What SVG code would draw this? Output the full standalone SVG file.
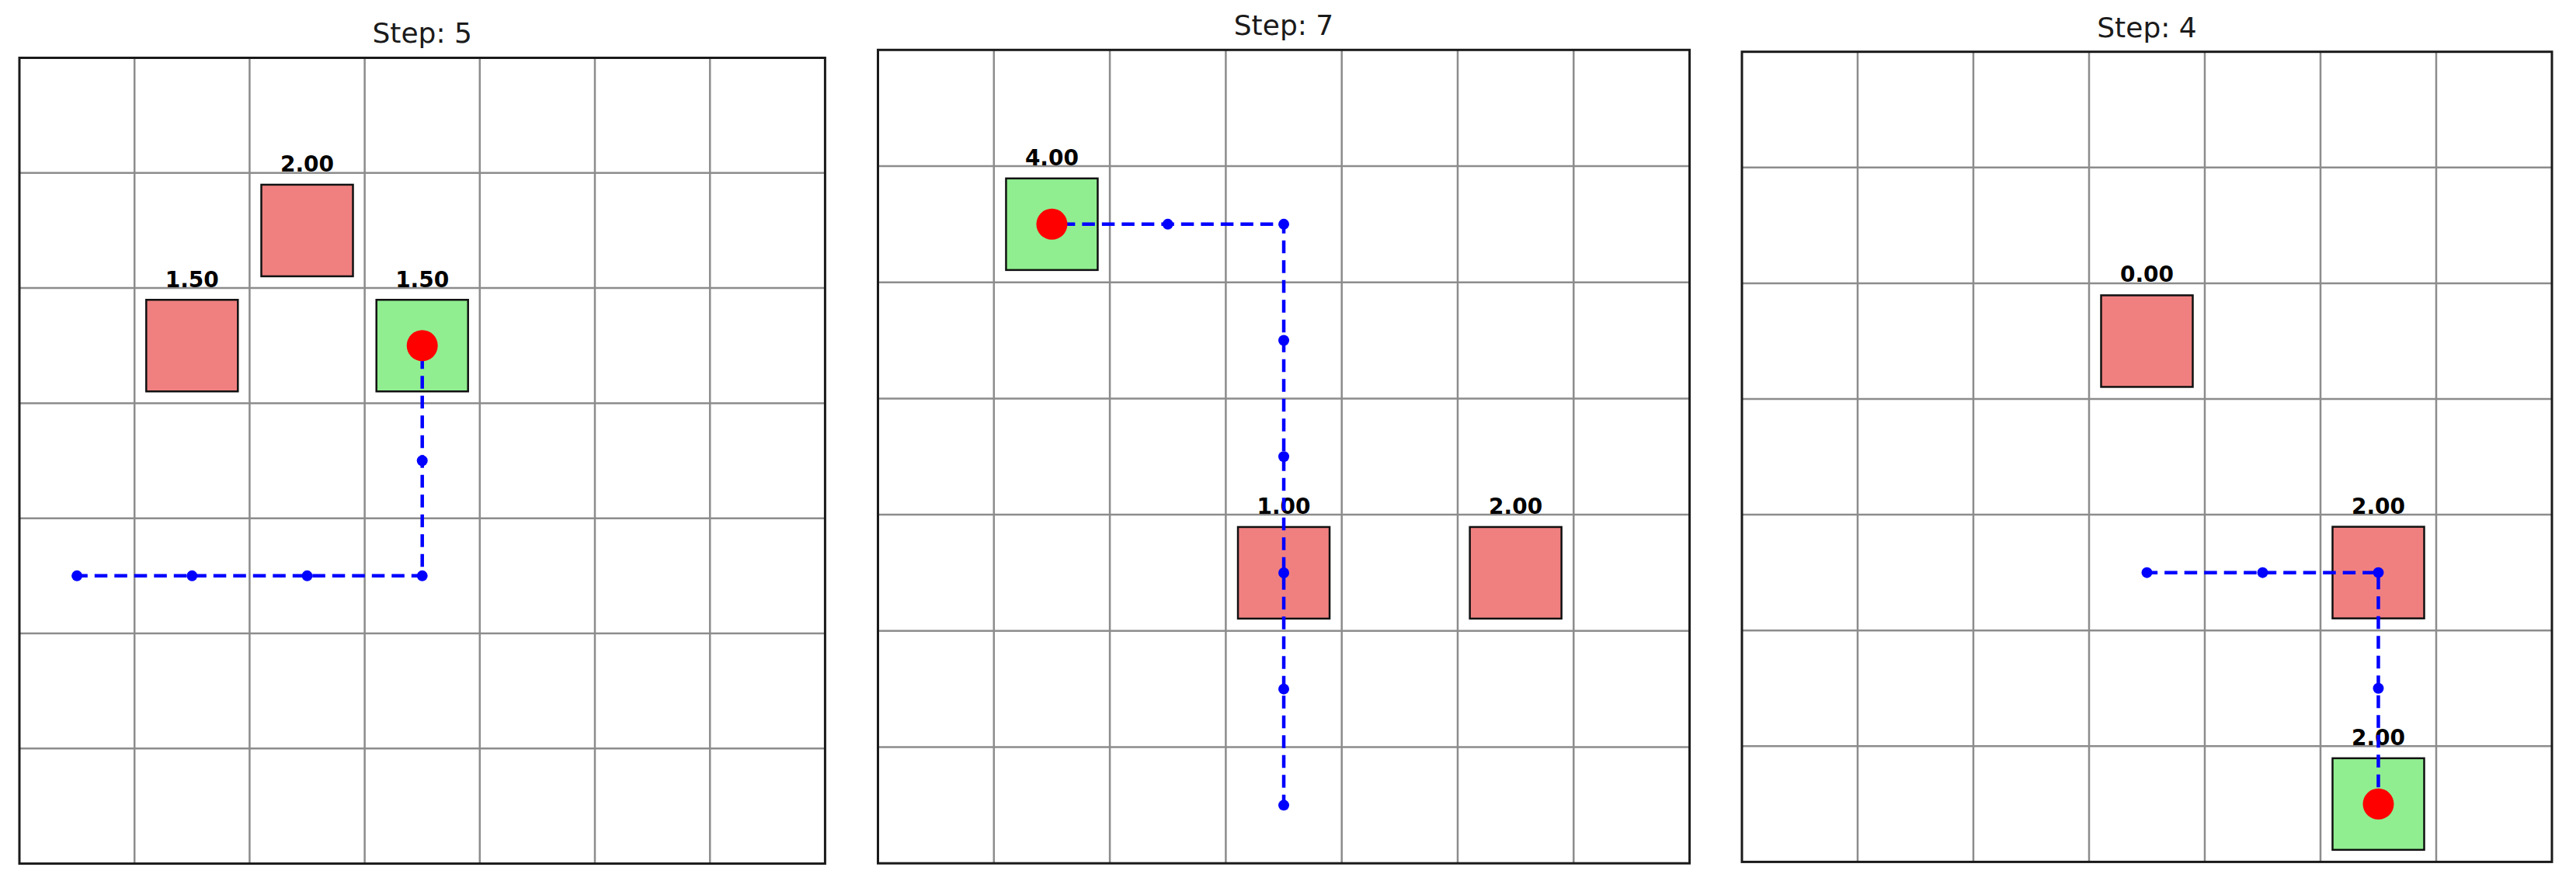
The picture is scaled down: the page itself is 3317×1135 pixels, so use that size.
<svg xmlns="http://www.w3.org/2000/svg" width="3317" height="1135" viewBox="0 0 3317 1135">
<style>
.title{font-family:"DejaVu Sans","Liberation Sans",sans-serif;font-size:36px;fill:#1a1a1a;text-anchor:middle}
.lbl{font-family:"DejaVu Sans","Liberation Sans",sans-serif;font-size:28px;font-weight:bold;fill:#000;text-anchor:middle}
.grid{fill:none;stroke:#8c8c8c;stroke-width:2.5}
.frame{fill:none;stroke:#1a1a1a;stroke-width:3}
.bad{fill:#f08080;stroke:#111;stroke-width:2.5}
.good{fill:#90ee90;stroke:#111;stroke-width:2.5}
.route{fill:none;stroke:#0000ff;stroke-width:4.5;stroke-dasharray:16.5 9;stroke-dashoffset:2.8}
.dot{fill:#0000ff}
.agent{fill:#ff0000}
</style>
<rect width="3317" height="1135" fill="#ffffff"/>

<!-- Panel 1 -->
<g id="panel1">
  <text class="title" x="543.7" y="55">Step: 5</text>
  <path class="grid" d="M173.2 74.5V1112.6M321.4 74.5V1112.6M469.6 74.5V1112.6M617.8 74.5V1112.6M766 74.5V1112.6M914.2 74.5V1112.6M25 222.8H1062.4M25 371.1H1062.4M25 519.4H1062.4M25 667.7H1062.4M25 816H1062.4M25 964.3H1062.4"/>
  <rect class="frame" x="25" y="74.5" width="1037.4" height="1038.1"/>
  <g id="p1-cell-2-1"><rect class="bad" x="336.5" y="237.95" width="118" height="118"/><text class="lbl" x="395.5" y="221.3">2.00</text></g>
  <g id="p1-cell-1-2"><rect class="bad" x="188.3" y="386.25" width="118" height="118"/><text class="lbl" x="247.3" y="369.6">1.50</text></g>
  <g id="p1-cell-3-2"><rect class="good" x="484.7" y="386.25" width="118" height="118"/><text class="lbl" x="543.7" y="369.6">1.50</text></g>
  <g id="p1-connectors">
    <polyline class="route" points="99.1,741.85 247.3,741.85 395.5,741.85 543.7,741.85 543.7,593.55 543.7,445.25"/>
    <circle class="dot" cx="99.1" cy="741.85" r="7"/>
    <circle class="dot" cx="247.3" cy="741.85" r="7"/>
    <circle class="dot" cx="395.5" cy="741.85" r="7"/>
    <circle class="dot" cx="543.7" cy="741.85" r="7"/>
    <circle class="dot" cx="543.7" cy="593.55" r="7"/>
    <circle class="dot" cx="543.7" cy="445.25" r="7"/>
  </g>
  <g id="p1-agent"><circle class="agent" cx="543.7" cy="445.25" r="20"/></g>
</g>

<!-- Panel 2 -->
<g id="panel2">
  <text class="title" x="1653" y="45">Step: 7</text>
  <path class="grid" d="M1279.8 64.3V1112.2M1429.1 64.3V1112.2M1578.4 64.3V1112.2M1727.7 64.3V1112.2M1877 64.3V1112.2M2026.3 64.3V1112.2M1130.5 214H2175.6M1130.5 363.7H2175.6M1130.5 513.4H2175.6M1130.5 663.1H2175.6M1130.5 812.8H2175.6M1130.5 962.5H2175.6"/>
  <rect class="frame" x="1130.5" y="64.3" width="1045.1" height="1047.9"/>
  <g id="p2-cell-1-1"><rect class="good" x="1295.45" y="229.85" width="118" height="118"/><text class="lbl" x="1354.45" y="212.5">4.00</text></g>
  <g id="p2-cell-3-4"><rect class="bad" x="1594.05" y="678.95" width="118" height="118"/><text class="lbl" x="1653.05" y="661.6">1.00</text></g>
  <g id="p2-cell-5-4"><rect class="bad" x="1892.65" y="678.95" width="118" height="118"/><text class="lbl" x="1951.65" y="661.6">2.00</text></g>
  <g id="p2-connectors">
    <polyline class="route" points="1653.05,1037.35 1653.05,887.65 1653.05,737.95 1653.05,588.25 1653.05,438.55 1653.05,288.85 1503.75,288.85 1354.45,288.85"/>
    <circle class="dot" cx="1653.05" cy="1037.35" r="7"/>
    <circle class="dot" cx="1653.05" cy="887.65" r="7"/>
    <circle class="dot" cx="1653.05" cy="737.95" r="7"/>
    <circle class="dot" cx="1653.05" cy="588.25" r="7"/>
    <circle class="dot" cx="1653.05" cy="438.55" r="7"/>
    <circle class="dot" cx="1653.05" cy="288.85" r="7"/>
    <circle class="dot" cx="1503.75" cy="288.85" r="7"/>
    <circle class="dot" cx="1354.45" cy="288.85" r="7"/>
  </g>
  <g id="p2-agent"><circle class="agent" cx="1354.45" cy="288.85" r="20"/></g>
</g>

<!-- Panel 3 -->
<g id="panel3">
  <text class="title" x="2764.5" y="48">Step: 4</text>
  <path class="grid" d="M2392 66.7V1110.4M2541 66.7V1110.4M2690 66.7V1110.4M2839 66.7V1110.4M2988 66.7V1110.4M3137 66.7V1110.4M2243 215.8H3286M2243 364.9H3286M2243 514H3286M2243 663.1H3286M2243 812.2H3286M2243 961.3H3286"/>
  <rect class="frame" x="2243" y="66.7" width="1043" height="1043.7"/>
  <g id="p3-cell-3-2"><rect class="bad" x="2705.5" y="380.45" width="118" height="118"/><text class="lbl" x="2764.5" y="363.4">0.00</text></g>
  <g id="p3-cell-5-4"><rect class="bad" x="3003.5" y="678.65" width="118" height="118"/><text class="lbl" x="3062.5" y="661.6">2.00</text></g>
  <g id="p3-cell-5-6"><rect class="good" x="3003.5" y="976.85" width="118" height="118"/><text class="lbl" x="3062.5" y="959.8">2.00</text></g>
  <g id="p3-connectors">
    <polyline class="route" points="2764.5,737.65 2913.5,737.65 3062.5,737.65 3062.5,886.75 3062.5,1035.85"/>
    <circle class="dot" cx="2764.5" cy="737.65" r="7"/>
    <circle class="dot" cx="2913.5" cy="737.65" r="7"/>
    <circle class="dot" cx="3062.5" cy="737.65" r="7"/>
    <circle class="dot" cx="3062.5" cy="886.75" r="7"/>
    <circle class="dot" cx="3062.5" cy="1035.85" r="7"/>
  </g>
  <g id="p3-agent"><circle class="agent" cx="3062.5" cy="1035.85" r="20"/></g>
</g>
</svg>
